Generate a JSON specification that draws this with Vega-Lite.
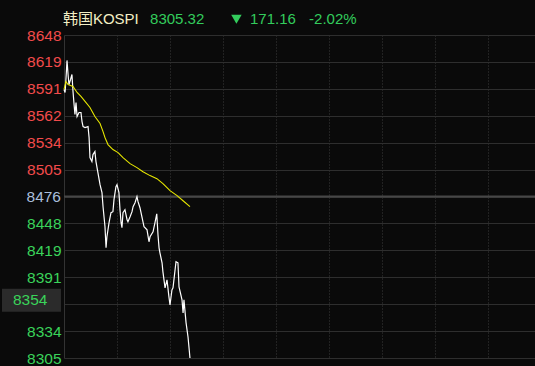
{
  "$schema": "https://vega.github.io/schema/vega-lite/v6.json",
  "width": 471,
  "height": 323,
  "autosize": {"type": "none"},
  "padding": {"left": 64, "top": 35, "right": 0, "bottom": 8},
  "background": "#0a0a0a",
  "config": {"view": {"stroke": null}, "font": "Liberation Sans"},
  "resolve": {"axis": {"x": "independent", "y": "independent"}},
  "datasets": {
    "price": [
      {"t": 0, "v": 8589.9}, {"t": 0.6, "v": 8586.7}, {"t": 1.1, "v": 8600.5}, {"t": 1.7, "v": 8620.7},
      {"t": 2.3, "v": 8605.8}, {"t": 2.8, "v": 8595.2}, {"t": 3.7, "v": 8600.5}, {"t": 4.5, "v": 8605.8},
      {"t": 5.1, "v": 8587.8}, {"t": 5.7, "v": 8574.0}, {"t": 6.2, "v": 8563.4}, {"t": 6.8, "v": 8576.1},
      {"t": 7.4, "v": 8561.2}, {"t": 8.5, "v": 8565.5}, {"t": 9.6, "v": 8565.5}, {"t": 10.2, "v": 8555.9},
      {"t": 10.8, "v": 8550.6}, {"t": 11.9, "v": 8549.6}, {"t": 13.6, "v": 8550.6}, {"t": 14.2, "v": 8538.9},
      {"t": 14.7, "v": 8517.7}, {"t": 15.8, "v": 8513.5}, {"t": 16.4, "v": 8520.9}, {"t": 17.5, "v": 8524.1},
      {"t": 18.1, "v": 8513.5}, {"t": 19.2, "v": 8501.8}, {"t": 20.4, "v": 8489.0}, {"t": 21.5, "v": 8480.5},
      {"t": 22.1, "v": 8465.7}, {"t": 23.2, "v": 8444.4}, {"t": 23.8, "v": 8422.1}, {"t": 24.3, "v": 8433.8},
      {"t": 25.5, "v": 8448.7}, {"t": 26.6, "v": 8459.3}, {"t": 27.7, "v": 8460.4}, {"t": 28.3, "v": 8473.1},
      {"t": 29.4, "v": 8486.9}, {"t": 30.0, "v": 8489.0}, {"t": 31.1, "v": 8480.5}, {"t": 31.7, "v": 8462.5},
      {"t": 32.3, "v": 8448.7}, {"t": 32.8, "v": 8443.4}, {"t": 33.4, "v": 8459.3}, {"t": 34.5, "v": 8462.5},
      {"t": 35.7, "v": 8451.9}, {"t": 36.2, "v": 8449.8}, {"t": 37.4, "v": 8455.1}, {"t": 38.5, "v": 8460.4},
      {"t": 39.1, "v": 8465.7}, {"t": 40.2, "v": 8469.9}, {"t": 41.3, "v": 8476.3}, {"t": 41.9, "v": 8471.0},
      {"t": 43.0, "v": 8464.6}, {"t": 44.2, "v": 8454.0}, {"t": 45.3, "v": 8444.4}, {"t": 47.0, "v": 8441.2},
      {"t": 48.1, "v": 8428.5}, {"t": 48.7, "v": 8433.8}, {"t": 50.4, "v": 8439.1}, {"t": 51.5, "v": 8448.7},
      {"t": 52.5, "v": 8458.2}, {"t": 53.2, "v": 8435.9}, {"t": 53.8, "v": 8422.1}, {"t": 54.3, "v": 8416.8},
      {"t": 55.5, "v": 8406.2}, {"t": 56.0, "v": 8396.6}, {"t": 57.2, "v": 8379.7}, {"t": 58.3, "v": 8388.2},
      {"t": 59.4, "v": 8370.1}, {"t": 60.0, "v": 8361.6}, {"t": 61.1, "v": 8377.5}, {"t": 61.7, "v": 8379.7},
      {"t": 63.4, "v": 8407.3}, {"t": 64.5, "v": 8406.2}, {"t": 65.1, "v": 8380.7}, {"t": 66.8, "v": 8366.9},
      {"t": 67.4, "v": 8353.1}, {"t": 67.9, "v": 8366.9}, {"t": 69.1, "v": 8342.5}, {"t": 70.2, "v": 8327.6},
      {"t": 71.3, "v": 8305.3}
    ],
    "avg": [
      {"t": 0, "v": 8590.0}, {"t": 1.1, "v": 8598.4}, {"t": 2.3, "v": 8595.2}, {"t": 5.1, "v": 8593.1},
      {"t": 7.4, "v": 8586.7}, {"t": 9.6, "v": 8582.5}, {"t": 11.9, "v": 8577.2}, {"t": 14.7, "v": 8570.8},
      {"t": 17.5, "v": 8561.2}, {"t": 20.4, "v": 8553.8}, {"t": 22.1, "v": 8545.3}, {"t": 23.2, "v": 8538.9},
      {"t": 24.9, "v": 8531.5}, {"t": 27.7, "v": 8526.2}, {"t": 30.6, "v": 8523.0}, {"t": 33.4, "v": 8517.7},
      {"t": 37.4, "v": 8511.3}, {"t": 41.3, "v": 8507.1}, {"t": 44.7, "v": 8502.8}, {"t": 48.7, "v": 8498.6},
      {"t": 52.6, "v": 8495.4}, {"t": 56.0, "v": 8490.1}, {"t": 60.0, "v": 8482.7}, {"t": 64.0, "v": 8477.4},
      {"t": 67.4, "v": 8472.0}, {"t": 71.3, "v": 8465.7}
    ],
    "quote": [
      {"name": "韩国KOSPI", "last": 8305.32, "chg": 171.16, "pct": "-2.02%", "prevClose": 8476.48, "cursor": 8354}
    ]
  },
  "layer": [
    {
      "data": {"name": "price"},
      "mark": {"type": "line", "color": "#ffffff", "strokeWidth": 1.2, "opacity": 0},
      "encoding": {
        "x": {
          "field": "t", "type": "quantitative",
          "scale": {"domain": [0, 266.6], "nice": false, "zero": false},
          "axis": {
            "values": [30, 60, 90, 120, 150, 180, 210, 240],
            "grid": true, "gridColor": "#3a3a3a", "gridDash": [1, 2], "gridWidth": 1,
            "labels": false, "ticks": false, "domain": false, "title": null
          }
        },
        "y": {
          "field": "v", "type": "quantitative",
          "scale": {"domain": [8305.32, 8647.64], "nice": false, "zero": false},
          "axis": {
            "values": [8647.64, 8619.11, 8590.59, 8562.06, 8533.53, 8505.01, 8476.48, 8447.95, 8419.43, 8390.90, 8362.37, 8333.85, 8305.32],
            "grid": true, "gridColor": "#2e2e2e", "gridWidth": 1,
            "domain": true, "domainColor": "#333333",
            "ticks": false, "labelPadding": 3, "labelFontSize": 15.5,
            "labelBaseline": "middle", "labelAlign": "right",
            "labelFlush": false, "labelOverlap": false, "labelBound": false,
            "labelExpr": "(abs(datum.value - 8362.37) < 1 || abs(datum.value - 8476.48) < 1) ? '' : format(datum.value, '.0f')",
            "labelColor": {"condition": {"test": "datum.value > 8477", "value": "#f24b4b"}, "value": "#3ad35a"},
            "title": null
          }
        }
      }
    },
    {
      "data": {"name": "quote"},
      "mark": {"type": "rule", "color": "#474747", "strokeWidth": 2},
      "encoding": {"y": {"field": "prevClose", "type": "quantitative", "axis": null}}
    },
    {
      "data": {"name": "price"},
      "mark": {"type": "line", "color": "#ffffff", "strokeWidth": 1.2},
      "encoding": {
        "x": {"field": "t", "type": "quantitative", "axis": null},
        "y": {"field": "v", "type": "quantitative", "axis": null}
      }
    },
    {
      "data": {"name": "avg"},
      "mark": {"type": "line", "color": "#e6e600", "strokeWidth": 1.1},
      "encoding": {
        "x": {"field": "t", "type": "quantitative", "axis": null},
        "y": {"field": "v", "type": "quantitative", "axis": null}
      }
    },
    {
      "data": {"name": "quote"},
      "mark": {"type": "text", "align": "right", "baseline": "middle", "fontSize": 15.5, "color": "#a9bfdc"},
      "encoding": {
        "x": {"datum": -1.7, "axis": null}, "y": {"field": "prevClose", "type": "quantitative", "axis": null},
        "text": {"field": "prevClose", "type": "quantitative", "format": ".0f"}
      }
    },
    {
      "data": {"name": "quote"},
      "mark": {"type": "rect", "color": "#2b2b2b"},
      "encoding": {
        "x": {"datum": -35.1, "axis": null}, "x2": {"datum": -1.7},
        "y": {"datum": 8378.8, "axis": null}, "y2": {"datum": 8354.4}
      }
    },
    {
      "data": {"name": "quote"},
      "mark": {"type": "text", "align": "left", "baseline": "middle", "fontSize": 15.5, "color": "#3ad35a"},
      "encoding": {
        "x": {"datum": -28.9, "axis": null}, "y": {"datum": 8366.6, "axis": null},
        "text": {"field": "cursor", "type": "quantitative", "format": ".0f"}
      }
    },
    {
      "data": {"name": "quote"},
      "mark": {"type": "text", "align": "left", "baseline": "alphabetic", "fontSize": 15, "color": "#f3efc4", "font": "Liberation Sans, Noto Sans CJK SC"},
      "encoding": {
        "x": {"datum": -0.6, "axis": null}, "y": {"datum": 8659.1, "axis": null},
        "text": {"field": "name"}
      }
    },
    {
      "data": {"name": "quote"},
      "mark": {"type": "text", "align": "left", "baseline": "alphabetic", "fontSize": 15, "color": "#33cc5c"},
      "encoding": {
        "x": {"datum": 48.7, "axis": null}, "y": {"datum": 8659.1, "axis": null},
        "text": {"field": "last", "type": "quantitative", "format": ".2f"}
      }
    },
    {
      "data": {"name": "quote"},
      "mark": {"type": "point", "shape": "triangle-down", "filled": true, "size": 110, "color": "#33cc5c", "opacity": 1},
      "encoding": {
        "x": {"datum": 97.6, "axis": null}, "y": {"datum": 8664.4, "axis": null}
      }
    },
    {
      "data": {"name": "quote"},
      "mark": {"type": "text", "align": "left", "baseline": "alphabetic", "fontSize": 15, "color": "#33cc5c"},
      "encoding": {
        "x": {"datum": 105.3, "axis": null}, "y": {"datum": 8659.1, "axis": null},
        "text": {"field": "chg", "type": "quantitative", "format": ".2f"}
      }
    },
    {
      "data": {"name": "quote"},
      "mark": {"type": "text", "align": "left", "baseline": "alphabetic", "fontSize": 15, "color": "#33cc5c"},
      "encoding": {
        "x": {"datum": 138.7, "axis": null}, "y": {"datum": 8659.1, "axis": null},
        "text": {"field": "pct"}
      }
    }
  ]
}
